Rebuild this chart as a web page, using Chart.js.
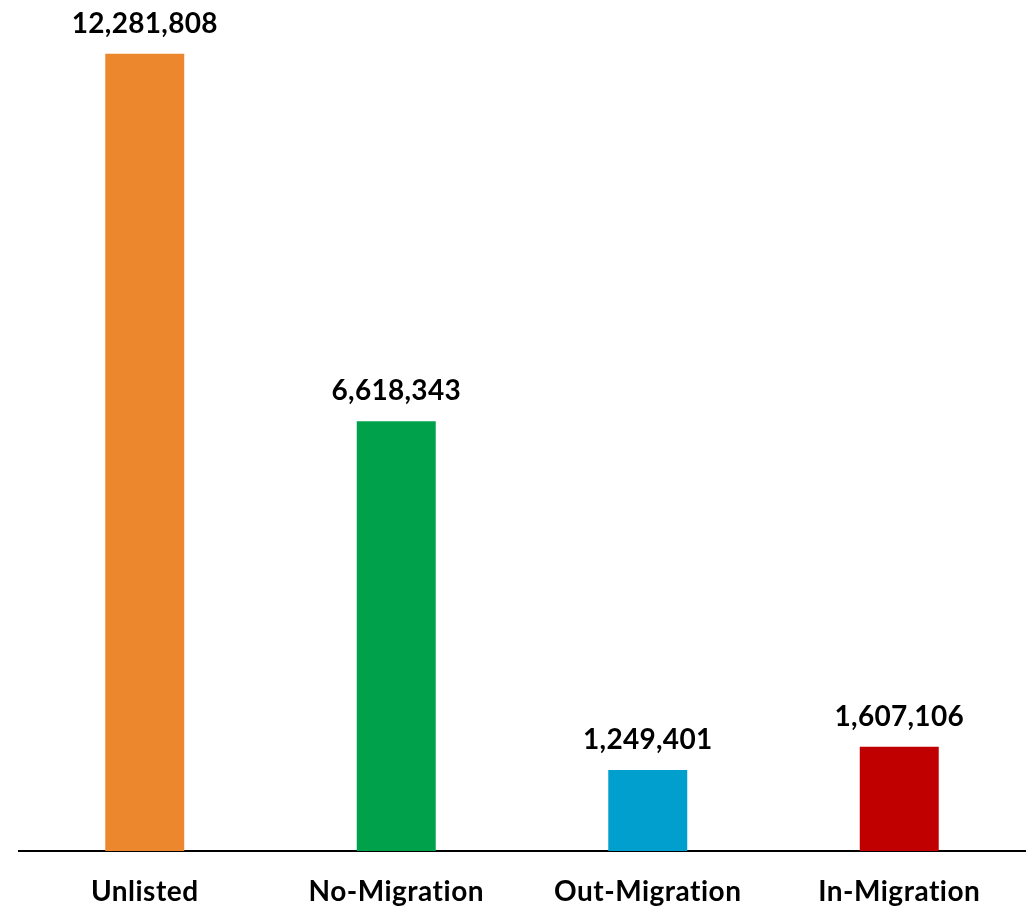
<!DOCTYPE html>
<html>
<head>
<meta charset="utf-8">
<script src="https://cdn.jsdelivr.net/npm/chart.js@4.4.0/dist/chart.umd.min.js"></script>
<style>
    body { margin: 0; background: #ffffff; }
    #chart { display: block; }
</style>
</head>
<body>
<canvas id="chart" width="1033" height="908"></canvas>
<script>
// Population by migration status
const categories = ['Unlisted', 'No-Migration', 'Out-Migration', 'In-Migration'];
const counts = [12281808, 6618343, 1249401, 1607106];
const barColors = ['#ED872D', '#00A14B', '#009FCD', '#C00000'];
const yMax = 13000000;

const labelFont = { family: 'Lato', size: 28, weight: 'bold', lineHeight: 1 };

// A touch of tracking (also keeps "ti" from turning into a ligature)
const textSpacing = {
    id: 'textSpacing',
    beforeDraw(chart) {
        chart.ctx.letterSpacing = '0.5px';
    }
};

// Writes the value above each bar
const valueLabels = {
    id: 'valueLabels',
    afterDatasetsDraw(chart) {
        const ctx = chart.ctx;
        const meta = chart.getDatasetMeta(0);
        ctx.save();
        ctx.font = 'bold 28px Lato';
        ctx.letterSpacing = '0.3px';
        ctx.fillStyle = '#000000';
        ctx.textAlign = 'center';
        ctx.textBaseline = 'alphabetic';
        meta.data.forEach((bar, i) => {
            ctx.fillText(counts[i].toLocaleString('en-US'), bar.x, bar.y - 21);
        });
        ctx.restore();
    }
};

new Chart(document.getElementById('chart'), {
    type: 'bar',
    data: {
        labels: categories,
        datasets: [{
            data: counts,
            backgroundColor: barColors,
            borderWidth: 0,
            barPercentage: 0.314,
            categoryPercentage: 1
        }]
    },
    options: {
        responsive: false,
        animation: false,
        layout: {
            padding: { left: 19, right: 8, top: 7, bottom: 0 }
        },
        plugins: {
            legend: { display: false },
            tooltip: { enabled: false }
        },
        scales: {
            x: {
                grid: { display: false, drawTicks: false },
                border: { display: true, color: '#000000', width: 2 },
                ticks: {
                    color: '#000000',
                    font: labelFont,
                    padding: 27,
                    maxRotation: 0
                },
                afterFit: function(scale) {
                    scale.height = 57;
                }
            },
            y: {
                display: false,
                min: 0,
                max: yMax
            }
        }
    },
    plugins: [textSpacing, valueLabels]
});
</script>
</body>
</html>
